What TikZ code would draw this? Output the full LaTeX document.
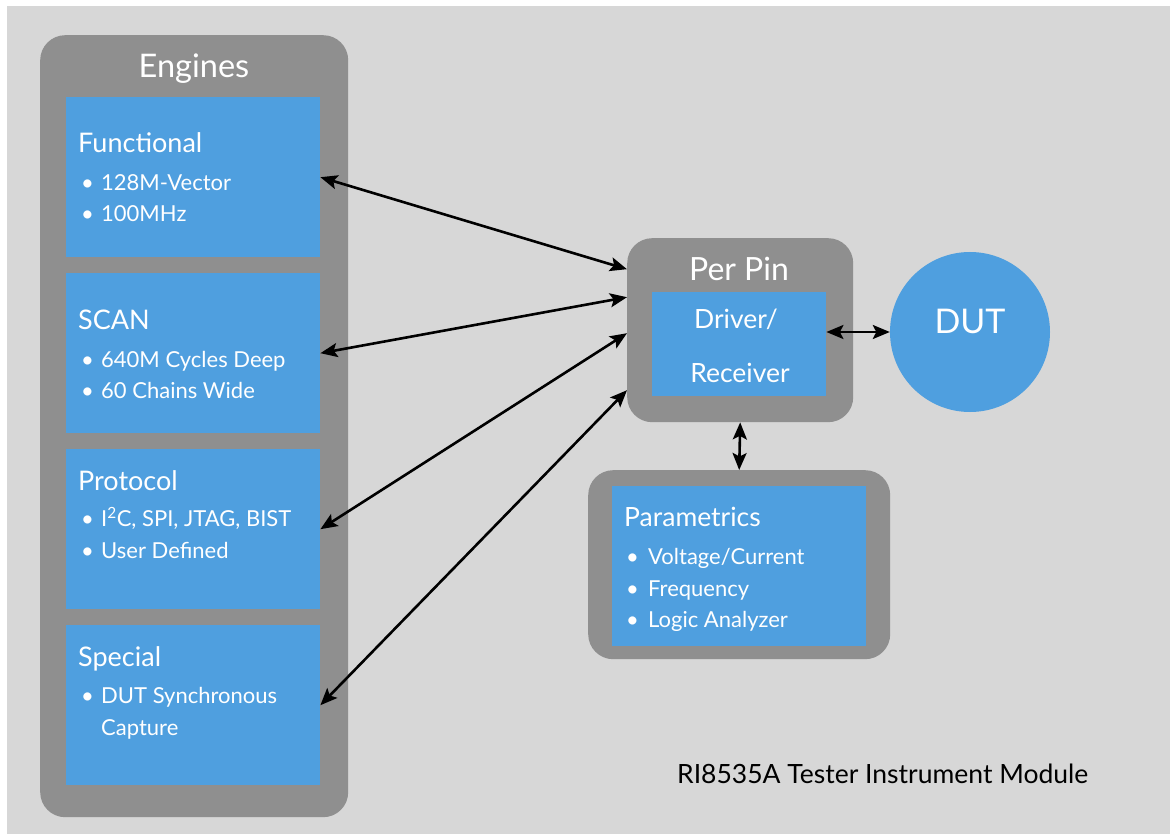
\documentclass[tikz,border=0pt]{standalone}
\usepackage{fontspec}
\setmainfont{Lato}
\usetikzlibrary{arrows.meta}
\definecolor{bgc}{HTML}{D7D7D7}
\definecolor{boxgray}{HTML}{8F8F8F}
\definecolor{blu}{HTML}{4F9FDF}
\tikzset{
  panel/.style={fill=boxgray, draw=none, rounded corners=25pt, inner sep=0pt, anchor=north west},
  bluebox/.style={fill=blu, draw=none, inner sep=0pt, anchor=north west},
  txt/.style={text=white, inner sep=0pt, anchor=base west},
  ctxt/.style={text=white, inner sep=0pt, anchor=base},
  bigttl/.style={font=\fontsize{32.5}{38}\selectfont},
  ttl/.style={font=\fontsize{27}{32}\selectfont},
  itm/.style={font=\fontsize{22}{26}\selectfont},
  pitm/.style={font=\fontsize{22}{26}\selectfont},
  biarrow/.style={draw=black, line width=2.6pt, {Stealth[length=17pt,width=14pt,inset=3.5pt]}-{Stealth[length=17pt,width=14pt,inset=3.5pt]}}
}
\begin{document}
\begin{tikzpicture}[x=1pt,y=-1pt]
\useasboundingbox (0,0) rectangle (1173,834);
\fill[bgc] (7,6) rectangle (1170,834);
% Engines panel
\node[panel, minimum width=308pt, minimum height=782pt] (engines) at (40,35) {};
\node[ctxt, bigttl] (engt) at (194,78) {Engines};
\node[bluebox, minimum width=254pt, minimum height=160pt] (func) at (66,97) {};
\node[bluebox, minimum width=254pt, minimum height=160pt] (scan) at (66,273) {};
\node[bluebox, minimum width=254pt, minimum height=160pt] (prot) at (66,449) {};
\node[bluebox, minimum width=254pt, minimum height=160pt] (spec) at (66,625) {};
% Functional
\node[txt, ttl] (funct) at (78,153) {Functional};
\node[txt, itm] (fb1) at (81,191) {•};
\node[txt, itm] (f1) at (101,191) {128M-Vector};
\node[txt, itm] (fb2) at (81,222) {•};
\node[txt, itm] (f2) at (101,222) {100MHz};
% SCAN
\node[txt, ttl] (scant) at (78,330) {SCAN};
\node[txt, itm] (sb1) at (81,367) {•};
\node[txt, itm] (s1) at (101,367) {640M Cycles Deep};
\node[txt, itm] (sb2) at (81,398) {•};
\node[txt, itm] (s2) at (101,398) {60 Chains Wide};
% Protocol
\node[txt, ttl] (prott) at (78,490) {Protocol};
\node[txt, itm] (pb1) at (81,526) {•};
\node[txt, itm] (p1) at (101,526) {I\textsuperscript{2}C, SPI, JTAG, BIST};
\node[txt, itm] (pb2) at (81,558) {•};
\node[txt, itm] (p2) at (101,558) {User Defined};
% Special
\node[txt, ttl] (spect) at (78,666) {Special};
\node[txt, itm] (xb1) at (81,703) {•};
\node[txt, itm] (x1) at (101,703) {DUT Synchronous};
\node[txt, itm] (x2) at (101,735) {Capture};
% Per Pin
\node[panel, minimum width=226pt, minimum height=184pt] (perpin) at (627,238) {};
\node[ctxt, font=\fontsize{32}{38}\selectfont] (ppt) at (739,281) {Per Pin};
\node[bluebox, minimum width=174pt, minimum height=104pt] (drv) at (652,292) {};
\node[ctxt, font=\fontsize{26.5}{31}\selectfont] (drv1) at (736,329) {Driver/};
\node[ctxt, font=\fontsize{26.5}{31}\selectfont] (drv2) at (740,382) {Receiver};
% Parametrics
\node[panel, minimum width=302pt, minimum height=189pt] (param) at (588,470) {};
\node[bluebox, minimum width=254pt, minimum height=160pt] (parin) at (612,486) {};
\node[txt, font=\fontsize{26.5}{31}\selectfont] (part) at (624,526) {Parametrics};
\node[txt, pitm] (qb1) at (626,564) {•};
\node[txt, pitm] (q1) at (648,564) {Voltage/Current};
\node[txt, pitm] (qb2) at (626,596) {•};
\node[txt, pitm] (q2) at (648,596) {Frequency};
\node[txt, pitm] (qb3) at (626,627) {•};
\node[txt, pitm] (q3) at (648,627) {Logic Analyzer};
% DUT
\node[circle, fill=blu, draw=none, minimum size=160pt, inner sep=0pt] (dut) at (970,332) {};
\node[ctxt, font=\fontsize{34}{40}\selectfont] (dutt) at (970,334) {DUT};
% Caption
\node[inner sep=0pt, anchor=base west, text=black, font=\fontsize{26.5}{31}\selectfont] (cap) at (677,783) {RI8535A Tester Instrument Module};
% Connectors
\draw[biarrow] (func.east) -- ([yshift=61pt]perpin.west);
\draw[biarrow] (scan.east) -- ([yshift=33pt]perpin.west);
\draw[biarrow] (prot.east) -- ([yshift=-3pt]perpin.west);
\draw[biarrow] (spec.east) -- ([yshift=-60pt]perpin.west);
\draw[biarrow] (drv.east |- dut.west) -- (dut.west);
\draw[biarrow] (perpin.south) -- (param.north);
\end{tikzpicture}
\end{document}
